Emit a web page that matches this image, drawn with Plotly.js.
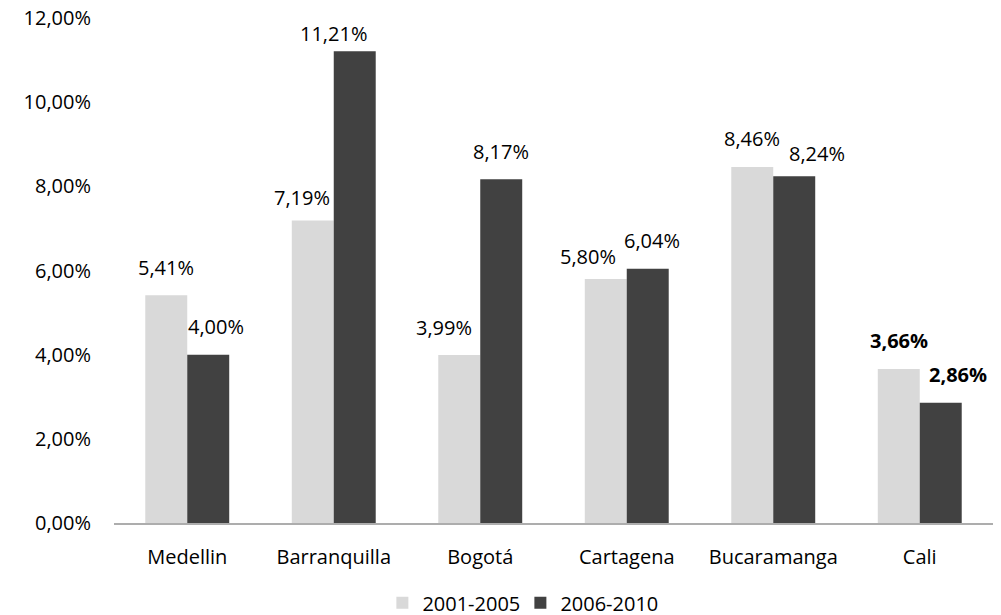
<!DOCTYPE html>
<html>
<head>
<meta charset="utf-8">
<script src="https://cdn.plot.ly/plotly-3.0.1.min.js"></script>
<style>html,body{margin:0;padding:0;background:#fff;}#chart{width:1001px;height:615px;}</style>
</head>
<body>
<div id="chart"></div>
<script>
// ---- data ----
const categories = ['Medellin', 'Barranquilla', 'Bogotá', 'Cartagena', 'Bucaramanga', 'Cali'];
const seriesNames = ['2001-2005', '2006-2010'];
const values2001_2005 = [0.0541, 0.0719, 0.0399, 0.0580, 0.0846, 0.0366];
const values2006_2010 = [0.0400, 0.1121, 0.0817, 0.0604, 0.0824, 0.0286];
const yTickValues = [0, 0.02, 0.04, 0.06, 0.08, 0.10, 0.12];
const boldCategories = ['Cali'];

// ---- label placement (layout only) ----
const labelNudgeX = [
  [0, -11, -15, -18, 0, 0],
  [8, -21, 0, 4, 23, 17]
];
const labelNudgeY = [
  [0, -5, 0, -6, 0, 0],
  [0, -10, 0, 0, -5, 0]
];

const FONT = 'Open Sans, sans-serif';
const FS = 20;
const colors = ['#d9d9d9', '#414141'];
const seriesValues = [values2001_2005, values2006_2010];

const fmt = v => (v * 100).toFixed(2).replace('.', ',') + '%';

const traces = seriesValues.map((vals, i) => ({
  type: 'bar',
  name: seriesNames[i],
  x: categories,
  y: vals,
  marker: {color: colors[i], line: {width: 0}},
  hoverinfo: 'x+y'
}));

const barHalf = 21;
const annotations = [];
seriesValues.forEach((vals, s) => {
  vals.forEach((v, k) => {
    const bold = boldCategories.includes(categories[k]);
    annotations.push({
      x: categories[k], y: v, xref: 'x', yref: 'y',
      text: bold ? '<b>' + fmt(v) + '</b>' : fmt(v),
      showarrow: false,
      xanchor: 'center', yanchor: 'middle',
      xshift: (s === 0 ? -barHalf : barHalf) + labelNudgeX[s][k],
      yshift: 28 + labelNudgeY[s][k],
      font: {family: FONT, size: FS, color: '#000'}
    });
  });
});

const layout = {
  width: 1001, height: 615,
  margin: {l: 114, r: 8, t: 18, b: 92, pad: 0},
  paper_bgcolor: '#fff', plot_bgcolor: '#fff',
  separators: ',.',
  barmode: 'group',
  bargap: 0.427,
  bargroupgap: 0,
  font: {family: FONT, size: FS, color: '#000'},
  xaxis: {
    type: 'category',
    automargin: false,
    showline: true, linecolor: '#adadad', linewidth: 2,
    showgrid: false, zeroline: false, ticks: '',
    ticklabelstandoff: 15,
    tickfont: {family: FONT, size: FS, color: '#000'}
  },
  yaxis: {
    automargin: false,
    range: [0, 0.12],
    tickvals: yTickValues,
    tickformat: '.2%',
    showline: false, showgrid: false, zeroline: false, ticks: '',
    ticklabelstandoff: 22,
    tickfont: {family: FONT, size: FS, color: '#000'}
  },
  showlegend: true,
  legend: {
    orientation: 'h',
    xref: 'container', yref: 'container',
    x: 0.382, xanchor: 'left',
    y: 0.02, yanchor: 'middle',
    font: {family: FONT, size: FS, color: '#000'},
    itemwidth: 30,
    entrywidth: 93,
    entrywidthmode: 'pixels',
    bgcolor: 'rgba(0,0,0,0)'
  },
  annotations: annotations
};

Plotly.newPlot('chart', traces, layout, {displayModeBar: false, staticPlot: true});
</script>
</body>
</html>
